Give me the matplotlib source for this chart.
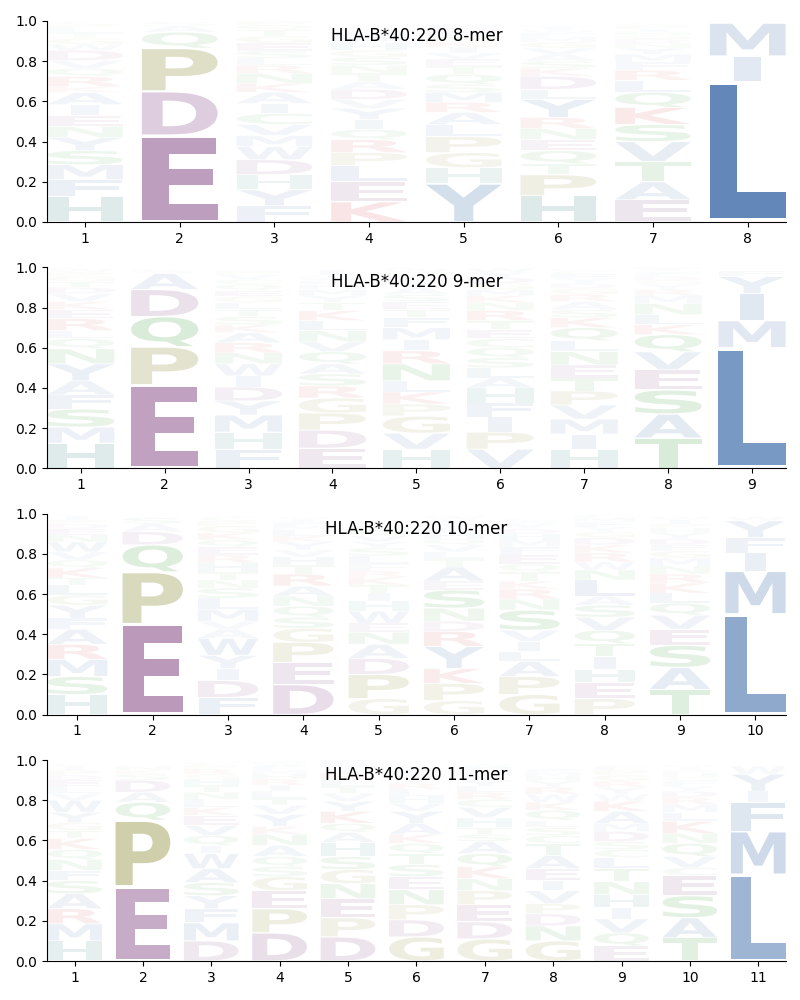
import numpy as np
import matplotlib
matplotlib.use('Agg')
import matplotlib.pyplot as plt
from matplotlib.textpath import TextPath
from matplotlib.font_manager import FontProperties
from matplotlib.patches import PathPatch
from matplotlib.transforms import Affine2D

################################################################################

allele = 'HLA-B*40:220'

# lettres de bas en haut pour chaque position, et leurs frequences
letters_8 = ['HFMSYNEIAKRQVDWGTLPC', 'EDPQAS', 'FYHDWMVCIAKNRLSEGTQP',
             'KELPRQIYVDATNSGHFMWC', 'YHGPLARMSQTEVIKNFDWC',
             'HPTQENRYLDKSAVGMFWIC', 'EATVSKQLRFMYNDGHIPWC', 'LIM']
freqs_8 = [
    [.125, .085, .075, .07, .066, .055, .053, .055, .06, .03, .05, .04, .04, .05, .03, .03, .025, .025, .02, .015],
    [.43, .22, .215, .08, .03, .02],
    [.08, .08, .075, .075, .065, .055, .055, .055, .05, .055, .045, .05, .04, .035, .035, .04, .035, .03, .025, .02],
    [.1, .1, .08, .065, .065, .05, .05, .055, .045, .05, .04, .04, .04, .04, .035, .035, .03, .025, .015, .01],
    [.19, .08, .075, .08, .06, .06, .05, .05, .04, .05, .04, .035, .03, .03, .03, .025, .02, .02, .015, .01],
    [.13, .105, .055, .065, .055, .055, .055, .09, .05, .065, .04, .035, .035, .03, .03, .025, .02, .015, .015, .01],
    [.11, .09, .1, .1, .085, .085, .075, .06, .05, .04, .04, .03, .025, .02, .02, .015, .015, .015, .01, .01],
    [.70, .125, .165],
]

letters_9 = ['HMSFAYNQLREKVDTGPWC', 'EPQDAS', 'FHMYDIWNRAKSTLGEQCVP',
             'EDPGRSAQVNLKTYMHFWCI', 'HVGPKLNRIMFTESAYDQWC',
             'VPIFHALSQCETRNKMGDYW', 'HIMVPTENLQKSARGDYFCW',
             'TASEVQKLNMRYGDFHIP', 'LMIYF']
freqs_9 = [
    [.125, .08, .09, .07, .07, .085, .075, .05, .04, .06, .045, .04, .04, .03, .03, .025, .02, .015, .01],
    [.415, .19, .15, .135, .08, .02],
    [.095, .085, .085, .07, .07, .055, .06, .055, .05, .05, .04, .04, .035, .035, .03, .03, .03, .025, .025, .02],
    [.1, .09, .085, .075, .06, .06, .05, .06, .05, .055, .05, .05, .04, .035, .03, .025, .02, .015, .01, .025],
    [.095, .08, .085, .06, .06, .055, .085, .065, .055, .06, .05, .04, .04, .035, .035, .03, .025, .02, .015, .01],
    [.095, .085, .075, .07, .075, .05, .05, .05, .05, .045, .045, .045, .05, .04, .035, .03, .03, .03, .025, .02],
    [.095, .075, .075, .07, .07, .065, .065, .065, .055, .065, .05, .04, .04, .035, .03, .025, .025, .02, .015, .01],
    [.15, .12, .12, .1, .09, .085, .05, .05, .055, .04, .03, .025, .02, .02, .015, .01, .01, .01],
    [.60, .135, .135, .085, .03],
]

letters_10 = ['HSMRAFYGLTKQVWNEDPIC', 'EPQDAS', 'FDIYWAVMLSNTHREQKGPC',
              'DEPGSQNARTHVYKLMFIW', 'GPDANEWHITKRFLSYVQMC',
              'GPKYRDNSEATLVQHFMIWC', 'GPALIVSNRKTQEFMHDYWC',
              'PEHITQVSALNWRKDGYFMC', 'TASEVQLKRNMGFDYHPIW', 'LMIFYW']
freqs_10 = [
    [.1, .09, .085, .075, .075, .055, .065, .05, .05, .035, .05, .04, .04, .05, .035, .03, .025, .02, .02, .01],
    [.45, .26, .135, .065, .04, .03],
    [.085, .085, .06, .065, .085, .045, .04, .06, .055, .05, .04, .04, .045, .04, .04, .035, .035, .035, .025, .02],
    [.15, .11, .1, .07, .055, .055, .05, .05, .06, .045, .04, .035, .04, .03, .03, .02, .02, .015, .01],
    [.08, .12, .08, .07, .06, .045, .06, .05, .04, .04, .04, .03, .035, .04, .04, .03, .03, .03, .02, .015],
    [.07, .085, .075, .11, .075, .05, .065, .09, .045, .07, .04, .035, .035, .03, .03, .025, .02, .02, .015, .01],
    [.1, .09, .075, .05, .05, .055, .1, .055, .05, .04, .045, .04, .045, .04, .035, .03, .025, .025, .015, .01],
    [.08, .08, .065, .065, .065, .065, .065, .06, .045, .08, .05, .04, .045, .04, .035, .03, .025, .025, .02, .015],
    [.125, .11, .11, .08, .07, .06, .05, .05, .045, .04, .04, .035, .03, .03, .03, .025, .02, .02, .015],
    [.50, .215, .09, .075, .085, .02],
]

letters_11 = ['HMRASFNQKTGYWVLEDPIC', 'EPQADSKN', 'DMFYSAWIQVEKLNTHGRPC',
              'DPEGSQANKYVTLIRHMFWC', 'DPENGSHAQKYVTLRIMF',
              'GDPNESTQKAYVHLRIMFW', 'GDEPNKQASTHVCRLYIMFW',
              'GNDPVIEATCSLQKWRYHMF', 'EQVIHNTLCSDMAKWYRGPF',
              'TASECVQNKLMRDYFGHPIW', 'LMFIYW']
freqs_11 = [
    [.1, .085, .075, .075, .065, .05, .055, .05, .055, .04, .04, .05, .06, .035, .035, .03, .025, .025, .02, .01],
    [.37, .33, .09, .05, .06, .03, .02, .02],
    [.1, .09, .07, .065, .065, .07, .075, .04, .05, .05, .05, .04, .04, .035, .035, .03, .025, .025, .02, .015],
    [.14, .12, .09, .07, .05, .05, .055, .055, .04, .06, .045, .035, .035, .03, .03, .025, .02, .02, .015, .01],
    [.12, .095, .095, .075, .07, .065, .07, .05, .045, .06, .05, .04, .035, .035, .03, .025, .02, .02],
    [.12, .085, .075, .075, .065, .06, .055, .05, .045, .055, .06, .04, .035, .035, .03, .025, .02, .02, .015],
    [.11, .085, .085, .07, .06, .06, .065, .06, .035, .035, .05, .05, .04, .035, .03, .03, .025, .02, .02, .015],
    [.1, .075, .06, .05, .065, .05, .06, .065, .06, .04, .04, .035, .05, .04, .04, .035, .03, .025, .02, .015],
    [.075, .065, .07, .055, .065, .065, .065, .055, .04, .04, .05, .04, .06, .05, .035, .035, .03, .03, .025, .02],
    [.115, .1, .11, .1, .04, .055, .065, .05, .06, .045, .04, .035, .03, .025, .025, .02, .02, .015, .015, .01],
    [.43, .215, .145, .055, .085, .04],
]

panels = [(8, letters_8, freqs_8), (9, letters_9, freqs_9),
          (10, letters_10, freqs_10), (11, letters_11, freqs_11)]

# couleurs par groupe d'acides amines
couleurs = {}
for c in 'AVLIMFWY':
    couleurs[c] = '#1f559b'
for c in 'DE':
    couleurs[c] = '#691e69'
for c in 'PG':
    couleurs[c] = '#6e6e00'
for c in 'STNQC':
    couleurs[c] = '#008000'
for c in 'KR':
    couleurs[c] = '#c80000'
couleurs['H'] = '#006464'

fp = FontProperties(family='DejaVu Sans', weight='bold')
ext_E = TextPath((0, 0), 'E', size=1, prop=fp).get_extents()

################################################################################


def lettre(ax, ch, x, bas, h, largeur=0.8, vpad=0.05):
    '''dessine une lettre etiree dans la boite [x-l/2, x+l/2] x [bas, bas+h]'''
    path = TextPath((0, 0), ch, size=1, prop=fp)
    ext = path.get_extents()
    hs = min(largeur / ext.width, largeur / ext_E.width)
    vs = h * (1 - vpad) / ext.height
    dx = (largeur - hs * ext.width) / 2
    tr = Affine2D().translate(-ext.x0, -ext.y0).scale(hs, vs)
    tr = tr.translate(x - largeur / 2 + dx, bas + h * vpad / 2)
    patch = PathPatch(tr.transform_path(path), facecolor=couleurs[ch],
                      edgecolor='none', alpha=min(1.0, h), zorder=2)
    ax.add_patch(patch)


fig, axes = plt.subplots(4, 1, figsize=(8, 10), dpi=100)
plt.subplots_adjust(left=0.059, right=0.982, bottom=0.039, top=0.979, hspace=0.226)

for ax, (n, lets, fr) in zip(axes, panels):
    for i in range(n):
        bas = 0.0
        for ch, f in zip(lets[i], fr[i]):
            lettre(ax, ch, i + 1, bas, f)
            bas += f
    ax.set_xlim(0.6, n + 0.4)
    ax.set_ylim(0, 1)
    ax.set_xticks(range(1, n + 1))
    ax.set_yticks(np.arange(0, 1.01, 0.2))
    ax.spines['top'].set_visible(False)
    ax.spines['right'].set_visible(False)
    ax.text(0.5, 0.925, f'{allele} {n}-mer', transform=ax.transAxes,
            ha='center', va='center', fontsize=12, zorder=5)

plt.savefig('out.png', dpi=100)
